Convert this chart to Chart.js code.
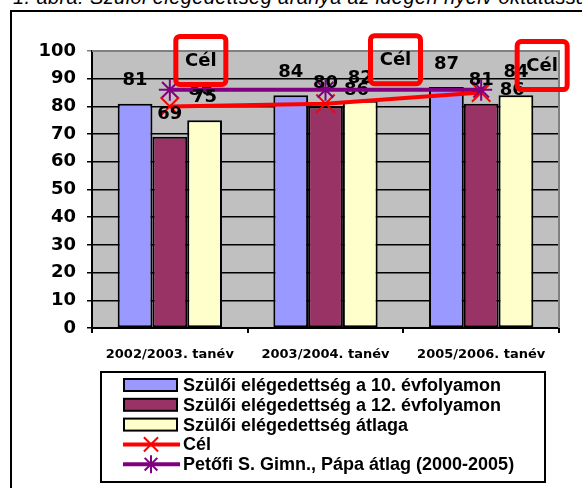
<!DOCTYPE html>
<html>
<head>
<meta charset="utf-8">
<script src="https://cdn.jsdelivr.net/npm/chart.js@4"></script>
<style>
  html, body { margin: 0; padding: 0; background: #fff; overflow: hidden; }
  #cim { position: absolute; left: 13px; top: -13px; font: italic 20px "Liberation Sans", Arial, sans-serif; line-height: 20px; letter-spacing: 0.4px; white-space: nowrap; }
  #keret { position: absolute; left: 10px; top: 10px; width: 600px; height: 500px; border: 2px solid #000; }
  #grafikon { position: absolute; left: 0; top: 0; }
</style>
</head>
<body>
<div id="cim">1. ábra: Szülői elégedettség aránya az idegen nyelv oktatással (%)</div>
<div id="keret"></div>
<canvas id="grafikon" width="582" height="488"></canvas>
<script>
const tanevek = ["2002/2003. tanév", "2003/2004. tanév", "2005/2006. tanév"];
const evfolyam10 = [81, 84, 87];
const evfolyam12 = [69, 80, 81];
const atlag = [75, 82, 84];
const cel = [80, 81, 85];
const petofiAtlag = [86, 86, 86];
const celFelirat = "Cél";

const betuTengely = "'DejaVu Sans', sans-serif";
const betuJelmagyarazat = "'Liberation Sans', Arial, sans-serif";

// "Cél" dobozok eltolása a pontokhoz képest
const celDobozEltolas = [[31, -46], [70, -44], [61, -27]];

function rajzolX(ctx, x, y, r) {
  const d = r * 0.707;
  ctx.beginPath();
  ctx.moveTo(x - d, y - d); ctx.lineTo(x + d, y + d);
  ctx.moveTo(x - d, y + d); ctx.lineTo(x + d, y - d);
  ctx.stroke();
}

function rajzolCsillag(ctx, x, y, r) {
  rajzolX(ctx, x, y, r);
  ctx.beginPath();
  ctx.moveTo(x, y - r); ctx.lineTo(x, y + r);
  ctx.stroke();
}

const feliratok = {
  id: "feliratok",
  beforeDraw(chart) {
    const { ctx, chartArea: a } = chart;
    ctx.save();
    ctx.fillStyle = "#c0c0c0";
    ctx.fillRect(a.left, a.top, a.right - a.left, a.bottom - a.top);
    ctx.restore();
  },
  beforeDatasetsDraw(chart) {
    // a Petőfi átlag feliratai az oszlopok alá kerülnek
    const ctx = chart.ctx;
    ctx.save();
    ctx.font = "bold 18px " + betuTengely;
    ctx.fillStyle = "#000";
    ctx.textAlign = "center";
    ctx.textBaseline = "middle";
    chart.getDatasetMeta(4).data.forEach((p, i) => {
      ctx.fillText(petofiAtlag[i], p.x + 31, p.y + 1);
    });
    ctx.restore();
  },
  afterDatasetsDraw(chart) {
    const ctx = chart.ctx;
    ctx.save();
    ctx.font = "bold 18px " + betuTengely;
    ctx.fillStyle = "#000";
    ctx.textAlign = "center";
    ctx.textBaseline = "middle";
    for (let d = 0; d < 3; d++) {
      const ertekek = chart.data.datasets[d].data;
      chart.getDatasetMeta(d).data.forEach((bar, i) => {
        ctx.fillText(ertekek[i], bar.x, bar.y - 23);
      });
    }
    ctx.restore();
  },
  afterDraw(chart) {
    const { ctx, chartArea: a } = chart;
    ctx.save();
    // keret szürke vonala
    ctx.strokeStyle = "#808080";
    ctx.lineWidth = 2;
    ctx.beginPath();
    ctx.moveTo(a.left, a.top);
    ctx.lineTo(a.right, a.top);
    ctx.lineTo(a.right, a.bottom);
    ctx.stroke();

    // Cél dobozok
    ctx.font = "bold 18px " + betuTengely;
    ctx.textAlign = "center";
    ctx.textBaseline = "middle";
    chart.getDatasetMeta(3).data.forEach((p, i) => {
      const cx = p.x + celDobozEltolas[i][0];
      const cy = p.y + celDobozEltolas[i][1];
      ctx.strokeStyle = "#ff0000";
      ctx.lineWidth = 5;
      ctx.beginPath();
      ctx.roundRect(cx - 25, cy - 24, 50, 48, 4);
      ctx.stroke();
      ctx.fillStyle = "#000";
      ctx.fillText(celFelirat, cx, cy + 1);
    });

    // jelmagyarázat
    ctx.fillStyle = "#fff";
    ctx.fillRect(101, 372, 444, 110);
    ctx.strokeStyle = "#000";
    ctx.lineWidth = 2;
    ctx.strokeRect(101, 372, 444, 110);
    ctx.font = "bold 18px " + betuJelmagyarazat;
    ctx.textAlign = "left";
    chart.data.datasets.forEach((ds, i) => {
      const y = 385 + i * 19.8;
      if (ds.type === "line") {
        ctx.strokeStyle = ds.borderColor;
        ctx.lineWidth = 4;
        ctx.beginPath();
        ctx.moveTo(123, y); ctx.lineTo(180, y);
        ctx.stroke();
        ctx.lineWidth = 2;
        if (ds.pointStyle === "star") rajzolCsillag(ctx, 151, y, 9);
        else rajzolX(ctx, 151, y, 10);
      } else {
        ctx.fillStyle = ds.backgroundColor;
        ctx.fillRect(124, y - 6, 53, 12);
        ctx.strokeStyle = "#000";
        ctx.lineWidth = 2;
        ctx.strokeRect(124, y - 6, 53, 12);
      }
      ctx.fillStyle = "#000";
      ctx.fillText(ds.label, 183, y + 1);
    });
    ctx.restore();
  }
};

const config = {
  type: "bar",
  data: {
    labels: tanevek,
    datasets: [
      {
        label: "Szülői elégedettség a 10. évfolyamon",
        data: evfolyam10,
        backgroundColor: "#9999ff",
        borderColor: "#000",
        borderWidth: 2,
        borderSkipped: false,
        order: 2,
      },
      {
        label: "Szülői elégedettség a 12. évfolyamon",
        data: evfolyam12,
        backgroundColor: "#993366",
        borderColor: "#000",
        borderWidth: 2,
        borderSkipped: false,
        order: 2,
      },
      {
        label: "Szülői elégedettség átlaga",
        data: atlag,
        backgroundColor: "#ffffcc",
        borderColor: "#000",
        borderWidth: 2,
        borderSkipped: false,
        order: 2,
      },
      {
        type: "line",
        label: "Cél",
        data: cel,
        borderColor: "#ff0000",
        borderWidth: 4,
        pointStyle: "crossRot",
        pointRadius: 13,
        pointBorderWidth: 2,
        pointBorderColor: "#ff0000",
        tension: 0,
        order: 1,
      },
      {
        type: "line",
        label: "Petőfi S. Gimn., Pápa átlag (2000-2005)",
        data: petofiAtlag,
        borderColor: "#800080",
        borderWidth: 4,
        pointStyle: "star",
        pointRadius: 11,
        pointBorderWidth: 2,
        pointBorderColor: "#800080",
        tension: 0,
        order: 0,
      },
    ],
  },
  options: {
    responsive: false,
    animation: false,
    devicePixelRatio: 1,
    layout: { padding: { top: 51, right: 23, left: 0, bottom: 0 } },
    plugins: { legend: { display: false }, tooltip: { enabled: false } },
    datasets: { bar: { categoryPercentage: 0.67, barPercentage: 1.0 } },
    scales: {
      x: {
        grid: { drawOnChartArea: false, color: "#000", lineWidth: 2, tickLength: 5 },
        border: { color: "#000", width: 2 },
        ticks: { color: "#000", font: { family: betuTengely, size: 13, weight: "bold" }, padding: 14, maxRotation: 0 },
        afterFit: (s) => { s.height = 160; },
      },
      y: {
        min: 0,
        max: 100,
        ticks: { stepSize: 10, color: "#000", font: { family: betuTengely, size: 18, weight: "bold" }, padding: 11 },
        grid: {
          color: (c) => (c.tick && c.tick.value === 100 ? "#808080" : "#000"),
          lineWidth: 1.5,
          tickLength: 5,
        },
        border: { color: "#000", width: 2 },
        afterFit: (s) => { s.width = 92; },
      },
    },
  },
  plugins: [feliratok],
};

new Chart(document.querySelector("#grafikon"), config);
</script>
</body>
</html>
